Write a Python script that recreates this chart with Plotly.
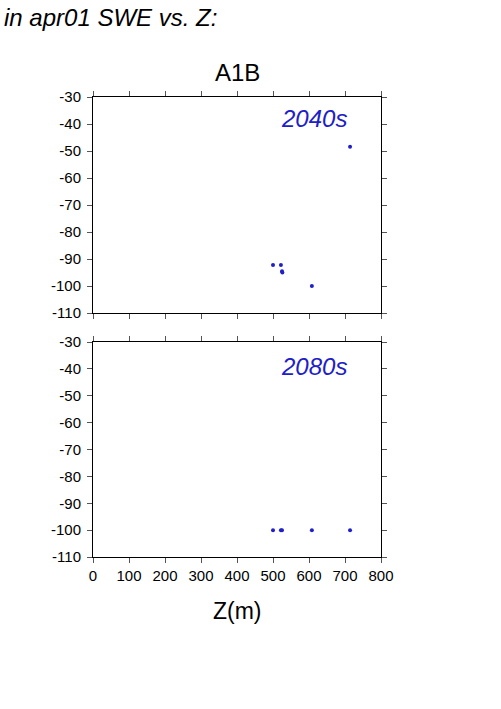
import plotly.graph_objects as go

# Data
z_2040s = [500, 522, 525, 526, 608, 714]
swe_2040s = [-92.2, -92.2, -94.5, -95.0, -100.0, -48.4]
z_2080s = [500, 522, 525, 608, 714]
swe_2080s = [-100, -100, -100, -100, -100]
y_tickvals = [-110, -100, -90, -80, -70, -60, -50, -40, -30]
y_ticktext = ["-110", "-100", "-90", "-80", "-70", "-60", "-50", "-40", "-30"]
x_tickvals = [0, 100, 200, 300, 400, 500, 600, 700, 800]
x_ticktext = ["0", "100", "200", "300", "400", "500", "600", "700", "800"]

BLUE = "rgb(32,32,200)"
FONT = "Liberation Sans, Arial, Helvetica, sans-serif"

fig = go.Figure()
fig.add_trace(go.Scatter(x=z_2040s, y=swe_2040s, mode="markers",
                         marker=dict(color=BLUE, size=4), xaxis="x", yaxis="y",
                         showlegend=False))
fig.add_trace(go.Scatter(x=z_2080s, y=swe_2080s, mode="markers",
                         marker=dict(color=BLUE, size=4), xaxis="x2", yaxis="y2",
                         showlegend=False))

axis_common = dict(showline=True, mirror="ticks", linecolor="black", linewidth=1,
                   ticks="outside", ticklen=5, tickcolor="#555", tickwidth=1,
                   showgrid=False, zeroline=False,
                   tickfont=dict(family=FONT, size=15, color="black"))

fig.update_layout(
    width=501, height=709,
    margin=dict(l=93, r=120, t=97, b=152),
    paper_bgcolor="white", plot_bgcolor="white",
    xaxis=dict(domain=[0, 1], anchor="y", range=[0, 800], tickvals=x_tickvals,
               showticklabels=False, **axis_common),
    yaxis=dict(domain=[244 / 460, 1], anchor="x", range=[-110, -30],
               tickvals=y_tickvals, ticktext=y_ticktext, ticklabelstandoff=3,
               **axis_common),
    xaxis2=dict(domain=[0, 1], anchor="y2", range=[0, 800], tickvals=x_tickvals,
                ticktext=x_ticktext, **axis_common),
    yaxis2=dict(domain=[0, 215 / 460], anchor="x2", range=[-110, -30],
                tickvals=y_tickvals, ticktext=y_ticktext, ticklabelstandoff=3,
                **axis_common),
    annotations=[
        dict(text="<i>in apr01 SWE vs. Z:</i>", xref="paper", yref="paper",
             x=-0.316, y=1.172, xanchor="left", yanchor="middle", showarrow=False,
             font=dict(family=FONT, size=24, color="black")),
        dict(text="A1B", xref="paper", yref="paper", x=0.5, y=1.054,
             xanchor="center", yanchor="middle", showarrow=False,
             font=dict(family=FONT, size=24, color="black")),
        dict(text="<i>2040s</i>", xref="x", yref="y", x=712, y=-38.0,
             xanchor="right", yanchor="middle", showarrow=False,
             font=dict(family=FONT, size=24, color=BLUE)),
        dict(text="<i>2080s</i>", xref="x2", yref="y2", x=712, y=-39.0,
             xanchor="right", yanchor="middle", showarrow=False,
             font=dict(family=FONT, size=24, color=BLUE)),
        dict(text="Z(m)", xref="paper", yref="paper", x=0.5, y=-0.118,
             xanchor="center", yanchor="middle", showarrow=False,
             font=dict(family=FONT, size=23, color="black")),
    ],
)

# remove the default 8px page margin so the figure sits at the window's origin
fig.write_html("out.html", config={"displayModeBar": False},
               post_script="document.body.style.margin='0';")
